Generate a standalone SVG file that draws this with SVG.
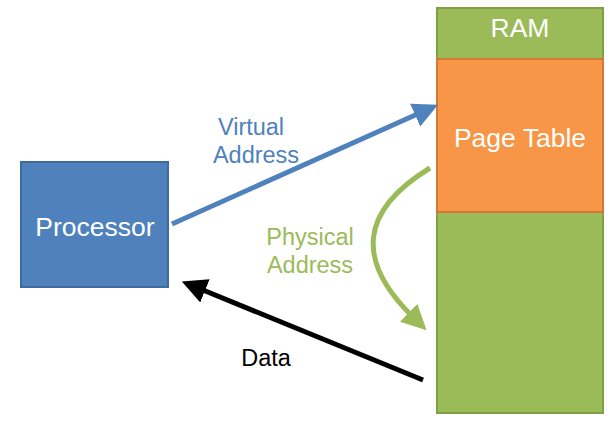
<svg xmlns="http://www.w3.org/2000/svg" width="613" height="422" viewBox="0 0 613 422">
<style>
text{font-family:"Liberation Sans",Arial,sans-serif;text-anchor:middle}
.w{fill:#fff;font-size:26.5px}
.lbl{font-size:23.5px}
</style>
<defs>
<marker id="ab" markerWidth="5" markerHeight="5" refX="1.5" refY="2.5" orient="auto" markerUnits="strokeWidth" viewBox="0 0 5 5"><path d="M0,0L5,2.5L0,5z" fill="#4F81BD"/></marker>
<marker id="ag" markerWidth="5" markerHeight="5" refX="1.5" refY="2.5" orient="auto" markerUnits="strokeWidth" viewBox="0 0 5 5"><path d="M0,0L5,2.5L0,5z" fill="#9BBB59"/></marker>
<marker id="ak" markerWidth="5" markerHeight="5" refX="1.5" refY="2.5" orient="auto" markerUnits="strokeWidth" viewBox="0 0 5 5"><path d="M0,0L5,2.5L0,5z" fill="#000"/></marker>
</defs>
<rect width="613" height="422" fill="#fff"/>
<g id="processor">
<rect x="21" y="162" width="147" height="125" fill="#4F81BD" stroke="#3D6B9E" stroke-width="2"/>
<text class="w" x="95" y="235.5">Processor</text>
</g>
<g id="ram">
<rect x="437" y="8" width="166" height="405" fill="#9BBB59" stroke="#7F9F45" stroke-width="2"/>
<text class="w" x="520" y="36.5">RAM</text>
</g>
<g id="pagetable">
<rect x="437" y="59" width="166" height="153" fill="#F79646" stroke="#D07A36" stroke-width="2"/>
<text class="w" x="520" y="146.5">Page Table</text>
</g>
<g id="connectors">
<path d="M172,224L422,112" stroke="#4F81BD" stroke-width="5" fill="none" marker-end="url(#ab)"/>
<path d="M430,168Q325,232 414,318" stroke="#9BBB59" stroke-width="5" fill="none" marker-end="url(#ag)"/>
<path d="M423,380L198,288" stroke="#000" stroke-width="5" fill="none" marker-end="url(#ak)"/>
</g>
<g id="labels">
<text class="lbl" x="251" y="134.5" fill="#4F81BD">Virtual</text>
<text class="lbl" x="256" y="163" fill="#4F81BD">Address</text>
<text class="lbl" x="310" y="244.5" fill="#9BBB59">Physical</text>
<text class="lbl" x="310" y="272.5" fill="#9BBB59">Address</text>
<text class="lbl" x="266" y="365.5" fill="#000">Data</text>
</g>
</svg>
